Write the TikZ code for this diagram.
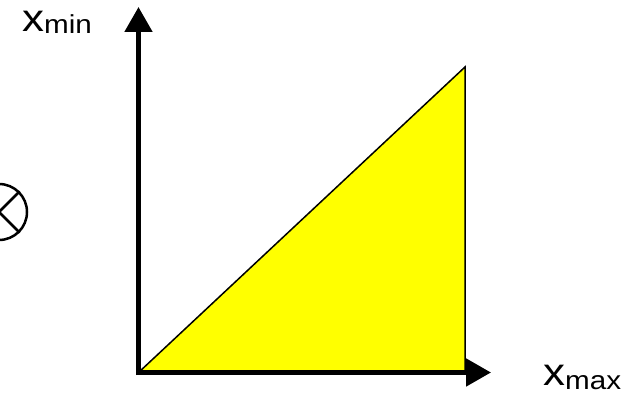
\documentclass[tikz,border=0pt]{standalone}
\usepackage{fontspec}
\setmainfont{Liberation Sans}
\newfontfamily\widesans[FakeStretch=1.14]{Liberation Sans}
\usetikzlibrary{arrows.meta}
\definecolor{fillyellow}{RGB}{255,255,0}
\begin{document}
\begin{tikzpicture}[x=1pt,y=-1pt,
  axis/.style={line width=5pt,-{Triangle[length=25pt,width=27pt]}},
  lbl/.style={inner sep=0pt,anchor=base west},
  big/.style={font=\widesans\fontsize{38.5}{38.5}\selectfont}]
\useasboundingbox (0,0) rectangle (640,395);
\coordinate (O) at (138.5,372.5);
\coordinate (A) at (465,67);
\coordinate (B) at (465,372.5);
\coordinate (ytip) at (138.5,7);
\coordinate (xtip) at (491,372.5);
\coordinate (ybase) at (138.5,375);
\coordinate (xbase) at (136,372.5);
\filldraw[fill=fillyellow,draw=black,line width=1.5pt] (O) -- (A) -- (B) -- cycle;
\draw[axis] (ybase) -- (ytip);
\draw[axis] (xbase) -- (xtip);
\node[lbl,big] (xmin) at (22,32) {x\raisebox{-2pt}{\fontsize{26}{26}\selectfont min}};
\node[lbl,big] (xmax) at (543,385) {x\raisebox{-4pt}{\fontsize{26}{26}\selectfont max}};
\node[circle,draw,line width=2.5pt,minimum size=56pt,inner sep=0pt] (c) at (-1,212) {};
\draw[line width=2.5pt] (c.north east) -- (c.south west) (c.north west) -- (c.south east);
\end{tikzpicture}
\end{document}
